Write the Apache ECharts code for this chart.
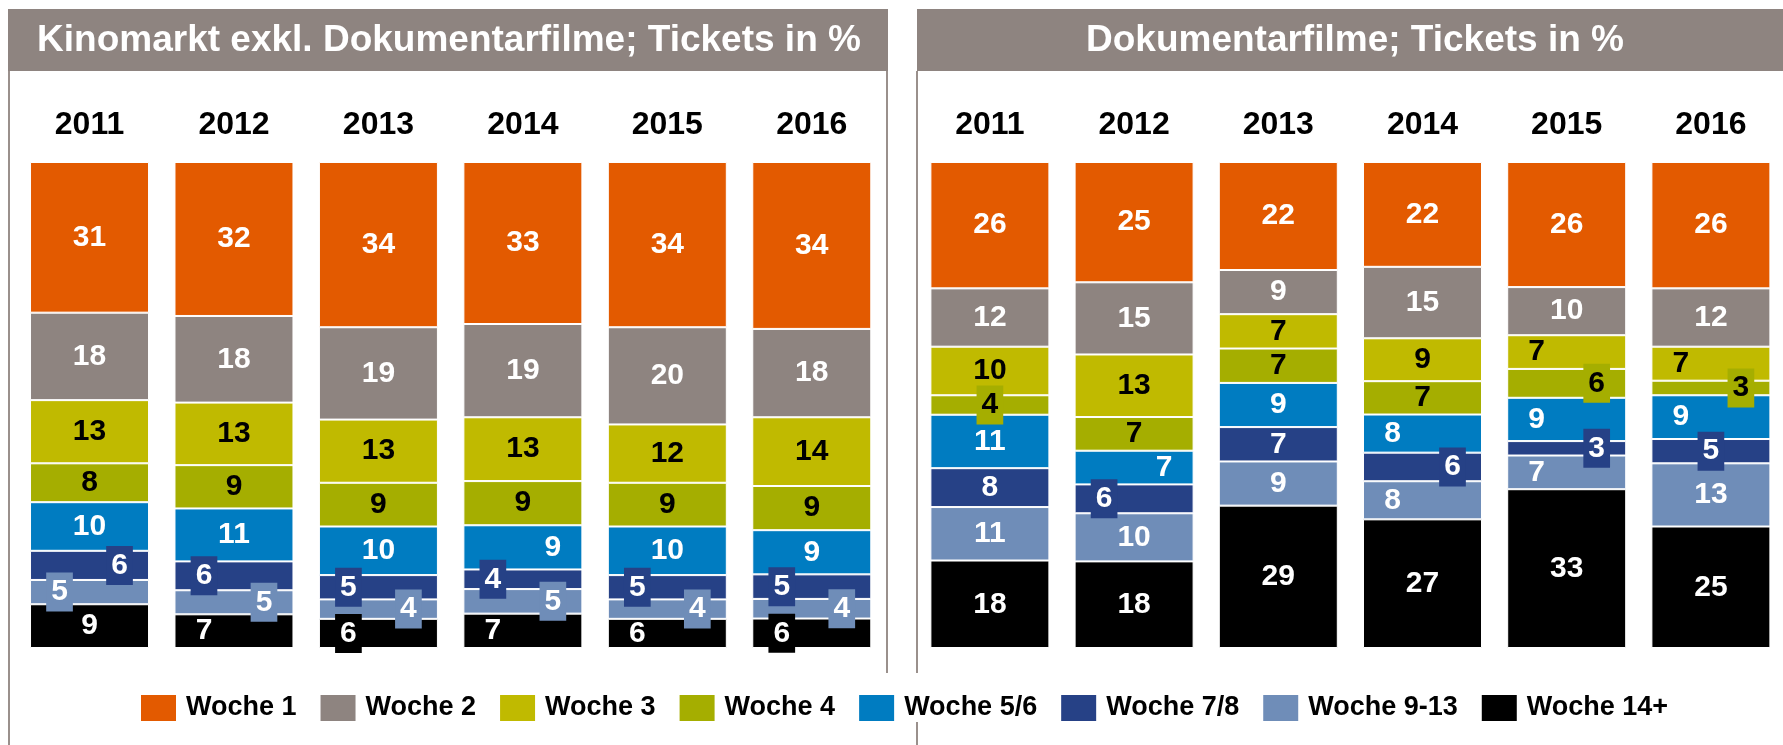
<!DOCTYPE html>
<html>
<head>
    <meta charset="utf-8">
    <title>Kinomarkt Tickets nach Laufwoche</title>
    <script src="https://cdn.jsdelivr.net/npm/echarts@6/dist/echarts.min.js"></script>
    <style>
        html, body { margin: 0; padding: 0; background: #fff; }
    </style>
</head>
<body>
<div id="main" style="width: 1783px;height:745px;"></div>
<script type="text/javascript">

    // Daten
    const years = ['2011', '2012', '2013', '2014', '2015', '2016'];
    const weeks = ['Woche 1', 'Woche 2', 'Woche 3', 'Woche 4', 'Woche 5/6', 'Woche 7/8', 'Woche 9-13', 'Woche 14+'];

    // Kinomarkt exkl. Dokumentarfilme
    const kinoW1 = [31, 32, 34, 33, 34, 34];
    const kinoW2 = [18, 18, 19, 19, 20, 18];
    const kinoW3 = [13, 13, 13, 13, 12, 14];
    const kinoW4 = [8, 9, 9, 9, 9, 9];
    const kinoW5 = [10, 11, 10, 9, 10, 9];
    const kinoW7 = [6, 6, 5, 4, 5, 5];
    const kinoW9 = [5, 5, 4, 5, 4, 4];
    const kinoW14 = [9, 7, 6, 7, 6, 6];

    // Dokumentarfilme
    const dokuW1 = [26, 25, 22, 22, 26, 26];
    const dokuW2 = [12, 15, 9, 15, 10, 12];
    const dokuW3 = [10, 13, 7, 9, 7, 7];
    const dokuW4 = [4, 7, 7, 7, 6, 3];
    const dokuW5 = [11, 7, 9, 8, 9, 9];
    const dokuW7 = [8, 6, 7, 6, 3, 5];
    const dokuW9 = [11, 10, 9, 8, 7, 13];
    const dokuW14 = [18, 18, 29, 27, 33, 25];

    // Lage der Beschriftung: c = mittig, l/r = links/rechts versetzt, Großbuchstabe = mit Kästchen
    const kinoLabelSide = ['cccccc', 'cccccc', 'cccccc', 'cccccc', 'cccrcc', 'RLLLLL', 'LRRRRR', 'clLllL'];
    const dokuLabelSide = ['cccccc', 'cccccc', 'ccccll', 'CcccRR', 'crclll', 'cLcRRC', 'cccllc', 'cccccc'];

    const colors = ['#e35a00', '#8e8480', '#c0ba00', '#a5ae00', '#007cc1', '#264186', '#6f8db8', '#000000'];
    const textColors = ['#fff', '#fff', '#000', '#000', '#fff', '#fff', '#fff', '#fff'];
    const font = 'Liberation Sans, Arial, sans-serif';
    const lineColor = '#9a908c';

    function buildSeries(panel, sides, idx) {
        const totals = years.map((y, j) => panel.reduce((s, arr) => s + arr[j], 0));
        return weeks.map((name, k) => ({
            name: name,
            type: 'bar',
            stack: 'p' + idx,
            xAxisIndex: idx,
            yAxisIndex: idx,
            barWidth: 119,
            itemStyle: { color: colors[k], borderColor: '#fff', borderWidth: 1 },
            emphasis: { disabled: true },
            label: {
                show: true,
                position: 'inside',
                formatter: p => p.data.raw,
                color: textColors[k],
                fontSize: 30,
                fontWeight: 'bold',
                fontFamily: font,
                padding: [4, 5],
                lineHeight: 31
            },
            data: panel[k].map((v, j) => {
                const code = sides[k][j];
                const dx = { c: 0, l: -30, r: 30 }[code.toLowerCase()];
                const boxed = code !== code.toLowerCase();
                return {
                    value: v / totals[j] * 100,
                    raw: v,
                    label: { offset: [dx, 0], backgroundColor: boxed ? colors[k] : 'transparent' }
                };
            })
        })).reverse();
    }

    const kinoData = [kinoW1, kinoW2, kinoW3, kinoW4, kinoW5, kinoW7, kinoW9, kinoW14];
    const dokuData = [dokuW1, dokuW2, dokuW3, dokuW4, dokuW5, dokuW7, dokuW9, dokuW14];

    const xAxisBase = {
        type: 'category',
        data: years,
        position: 'top',
        axisLine: { show: false },
        axisTick: { show: false },
        axisLabel: { fontSize: 32, fontWeight: 'bold', color: '#000', fontFamily: font, margin: 21 }
    };

    option = {
        animation: false,
        grid: [
            { left: 17.3, width: 866.7, top: 162, height: 486 },
            { left: 917.8, width: 866.7, top: 162, height: 486 }
        ],
        xAxis: [
            Object.assign({ gridIndex: 0 }, xAxisBase),
            Object.assign({ gridIndex: 1 }, xAxisBase)
        ],
        yAxis: [
            { type: 'value', gridIndex: 0, min: 0, max: 100, show: false },
            { type: 'value', gridIndex: 1, min: 0, max: 100, show: false }
        ],
        legend: {
            data: weeks,
            top: 693,
            left: 139,
            padding: 0,
            itemWidth: 37,
            itemHeight: 28,
            itemGap: 22,
            icon: 'rect',
            selectedMode: false,
            textStyle: { fontSize: 27, fontWeight: 'bold', color: '#000', fontFamily: font, padding: [0, 0, 0, 4] }
        },
        graphic: [
            { type: 'rect', shape: { x: 8, y: 9, width: 880, height: 62 }, style: { fill: '#8e8480' } },
            { type: 'rect', shape: { x: 917, y: 9, width: 866, height: 62 }, style: { fill: '#8e8480' } },
            { type: 'text', x: 449, y: 41, style: { text: 'Kinomarkt exkl. Dokumentarfilme; Tickets in %', fill: '#fff', font: 'bold 37px ' + font, textAlign: 'center', textVerticalAlign: 'middle' } },
            { type: 'text', x: 1355, y: 41, style: { text: 'Dokumentarfilme; Tickets in %', fill: '#fff', font: 'bold 37px ' + font, textAlign: 'center', textVerticalAlign: 'middle' } },
            { type: 'line', shape: { x1: 9, y1: 71, x2: 9, y2: 745 }, style: { stroke: lineColor, lineWidth: 2 } },
            { type: 'line', shape: { x1: 887, y1: 71, x2: 887, y2: 673 }, style: { stroke: lineColor, lineWidth: 2 } },
            { type: 'line', shape: { x1: 917, y1: 71, x2: 917, y2: 673 }, style: { stroke: lineColor, lineWidth: 2 } },
            { type: 'line', shape: { x1: 917, y1: 722, x2: 917, y2: 745 }, style: { stroke: lineColor, lineWidth: 2 } }
        ],
        series: buildSeries(kinoData, kinoLabelSide, 0).concat(buildSeries(dokuData, dokuLabelSide, 1))
    };

    let myChart = echarts.init(document.getElementById('main'));
    myChart.setOption(option);
</script>
</body>
</html>
